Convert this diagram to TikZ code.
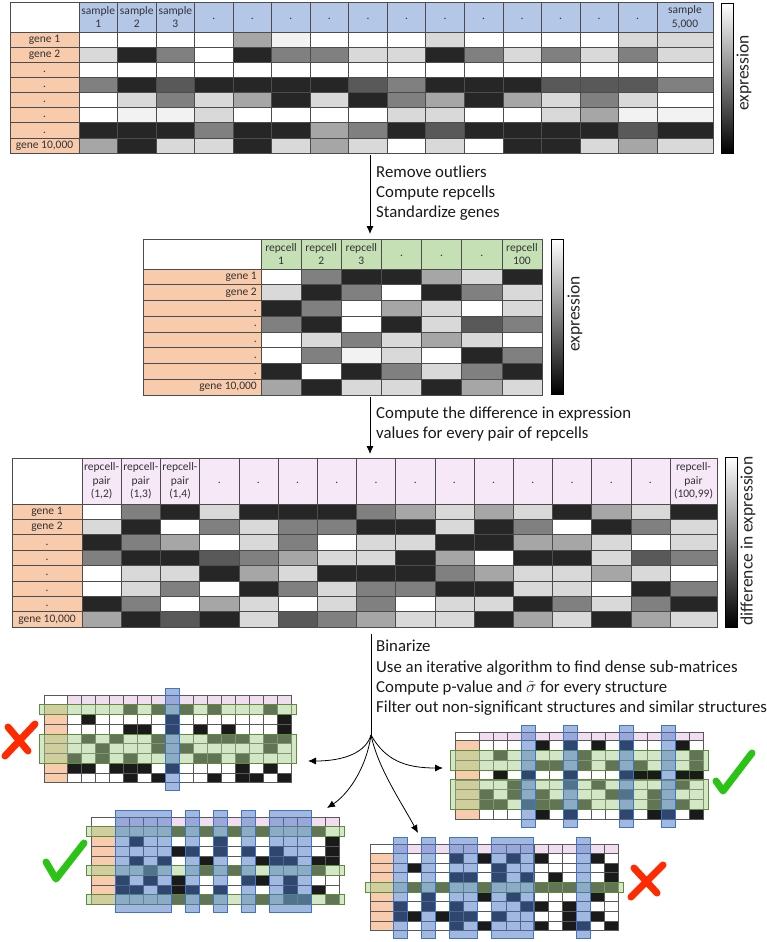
\documentclass[tikz,border=0pt]{standalone}
\usepackage{amsmath}
\usepackage{fontspec}
\setmainfont{Carlito}
\usepackage{tikz}
\usetikzlibrary{arrows.meta}

\definecolor{g0}{HTML}{FFFFFF}
\definecolor{g1}{HTML}{F2F2F2}
\definecolor{g2}{HTML}{D9D9D9}
\definecolor{g3}{HTML}{A6A6A6}
\definecolor{g4}{HTML}{808080}
\definecolor{g5}{HTML}{595959}
\definecolor{g6}{HTML}{262626}
\definecolor{b0}{HTML}{FFFFFF}
\definecolor{b1}{HTML}{1A1A1A}
\definecolor{hblue}{HTML}{B4C7E7}
\definecolor{hgreen}{HTML}{C5E0B4}
\definecolor{hpink}{HTML}{F6E8F6}
\definecolor{spink}{HTML}{F0DDF0}
\definecolor{lorange}{HTML}{F8CBAD}
\definecolor{bandg}{HTML}{A9D18E}
\definecolor{bandgl}{HTML}{5E8C3E}
\definecolor{bandb}{HTML}{4472C4}
\definecolor{okgreen}{HTML}{2BC416}
\definecolor{nored}{HTML}{FF2A00}

\newcommand{\dt}{\strut.}
% binary matrix shared by the four structures
\newcommand{\binrows}{{0,0,0,0,1,0,1,0,1,0,1,0,0,0,1,0},{0,1,0,0,0,0,0,1,0,0,0,0,0,0,0,1},{0,0,0,0,1,1,0,1,0,1,0,1,0,0,0,1},{0,1,0,1,0,0,1,0,0,0,1,1,1,0,1,1},{0,0,1,0,0,0,1,0,1,0,0,0,0,0,1,0},{1,0,1,0,1,0,0,0,0,1,1,0,1,0,0,0},{1,1,0,1,1,1,0,1,0,0,0,0,1,0,1,0},{0,0,0,0,1,0,1,0,0,0,1,0,1,1,0,1}}

% grey cells: data left, col width, right edge, top, row height, rows
\newcommand{\greycells}[6]{%
	\foreach \row [count=\r] in {#6} {
		\foreach \v [count=\c] in \row {
			\pgfmathsetmacro{\xa}{#1+(\c-1)*#2}
			\pgfmathsetmacro{\xb}{(\xa+1.5*#2>#3) ? #3 : \xa+#2}
			\filldraw[gcell,fill=g\v] (\xa,{#4+(\r-1)*#5}) rectangle (\xb,{#4+\r*#5});
		}
	}
}
% header cells: data left, col width, right edge, top, bottom, colour, texts, name
\newcommand{\headcells}[8]{%
	\foreach \t [count=\c] in {#7} {
		\pgfmathsetmacro{\xa}{#1+(\c-1)*#2}
		\pgfmathsetmacro{\xb}{(\xa+1.5*#2>#3) ? #3 : \xa+#2}
		\filldraw[gcell,fill=#6] (\xa,#4) rectangle (\xb,#5);
		\node[celltext] (#8-\c) at ({(\xa+\xb)/2},{(#4+#5)/2}) {\t};
	}
}
% gene labels: left, right, top, row height, text x, anchor, name
\newcommand{\genecells}[7]{%
	\foreach \t [count=\r] in {gene 1,gene 2,\dt,\dt,\dt,\dt,\dt,{gene 10,000}} {
		\filldraw[gcell,fill=lorange] (#1,{#3+(\r-1)*#4}) rectangle (#2,{#3+\r*#4});
		\node[celltext,anchor=#6] (#7-\r) at (#5,{#3+(\r-0.5)*#4}) {\t};
	}
}
% binarized matrix: x, y, label width, col width, header height, row height
\newcommand{\binmat}[6]{%
	\def\mx{#1}\def\my{#2}\def\ml{#3}\def\mc{#4}\def\mh{#5}\def\mr{#6}
	\filldraw[scell,fill=white] (#1,#2) rectangle ++(#3,#5);
	\foreach \c in {1,...,16}
		\filldraw[scell,fill=spink] ({#1+#3+(\c-1)*#4},#2) rectangle ++(#4,#5);
	\foreach \row [count=\r] in \binrows {
		\filldraw[scell,fill=lorange] (#1,{#2+#5+(\r-1)*#6}) rectangle ++(#3,#6);
		\foreach \v [count=\c] in \row
			\filldraw[scell,fill=b\v] ({#1+#3+(\c-1)*#4},{#2+#5+(\r-1)*#6}) rectangle ++(#4,#6);
	}
}
\newcommand{\gband}[2]{\filldraw[gband] ({\mx-5},{\my+\mh+(#1-1)*\mr}) rectangle ({\mx+\ml+16*\mc+5},{\my+\mh+#2*\mr});}
\newcommand{\bband}[2]{\filldraw[bband] ({\mx+\ml+(#1-1)*\mc},{\my-7}) rectangle ({\mx+\ml+#2*\mc},{\my+\mh+8*\mr+8});}

\begin{document}
\begin{tikzpicture}[x=1pt,y=-1pt]
	\tikzstyle{gcell}=[draw=black!70,line width=0.6pt]
	\tikzstyle{scell}=[draw=black!65,line width=0.5pt]
	\tikzstyle{celltext}=[align=center,inner sep=0pt,text=black!80,font=\fontsize{11.5}{13.5}\selectfont]
	\tikzstyle{steptext}=[anchor=west,align=left,inner sep=0pt,text=black!90,font=\fontsize{16.8}{20.3}\selectfont]
	\tikzstyle{bartext}=[rotate=90,inner sep=0pt,text=black!85,font=\fontsize{17.5}{19}\selectfont]
	\tikzstyle{arr}=[-{Latex[length=8pt,width=7pt]},line width=0.8pt]
	\tikzstyle{gband}=[fill=bandg,fill opacity=0.5,draw=bandgl,line width=0.9pt]
	\tikzstyle{bband}=[fill=bandb,fill opacity=0.5,draw=bandb,line width=1pt]
	\tikzstyle{okmark}=[draw=okgreen,line width=7pt,line cap=round,line join=round]
	\tikzstyle{nomark}=[draw=nored,line width=7pt,line cap=round]
	\useasboundingbox (0,0) rectangle (766,942);

	% samples
	\filldraw[gcell,fill=white] (10,2) rectangle (79,32);
	\headcells{79}{38.53}{713}{2}{32}{hblue}{{sample\\1},{sample\\2},{sample\\3},\dt,\dt,\dt,\dt,\dt,\dt,\dt,\dt,\dt,\dt,\dt,\dt,{sample\\5,000}}{sa}
	\genecells{10}{79}{32}{15.125}{44.5}{center}{ga}
	\greycells{79}{38.53}{713}{32}{15.125}{{0,0,0,0,3,1,0,0,0,2,0,0,0,0,2,2},{2,6,4,0,6,4,4,2,2,6,4,2,4,2,4,2},{0,0,0,0,0,0,0,0,0,0,0,0,0,0,0,0},{4,6,5,6,6,6,6,5,4,6,6,6,5,5,5,4},{0,2,4,2,3,6,2,6,4,3,6,3,2,4,2,0},{0,1,1,2,0,0,0,0,2,2,0,0,2,3,1,1},{6,6,6,4,6,6,3,4,6,5,6,6,6,6,5,6},{3,6,2,2,6,2,3,2,0,2,0,6,6,2,3,2}}
	\shade[top color=white,bottom color=black] (721,3) rectangle (733,153);
	\draw[line width=0.8pt] (721,3) rectangle (733,153);
	\node[bartext] (e1) at (744,73) {expression};

	% repcells
	\filldraw[gcell,fill=white] (143,239) rectangle (261,269);
	\headcells{261}{40.15}{542}{239}{269}{hgreen}{{repcell\\1},{repcell\\2},{repcell\\3},\dt,\dt,\dt,{repcell\\100}}{rc}
	\genecells{143}{261}{269}{15.75}{257}{east}{gb}
	\greycells{261}{40.15}{542}{269}{15.75}{{0,4,6,6,3,2,6},{2,6,4,0,6,4,2},{6,4,0,3,2,0,2},{4,6,0,6,2,5,4},{0,2,4,2,3,2,0},{0,4,1,2,0,6,4},{6,0,6,4,2,4,6},{3,6,2,2,6,3,2}}
	\shade[top color=white,bottom color=black] (551,239) rectangle (563,394);
	\draw[line width=0.8pt] (551,239) rectangle (563,394);
	\node[bartext] (e2) at (575,314) {expression};

	% repcell pairs
	\filldraw[gcell,fill=white] (12,458) rectangle (82,504);
	\headcells{82}{39.2}{717}{458}{504}{hpink}{{repcell-\\pair\\(1,2)},{repcell-\\pair\\(1,3)},{repcell-\\pair\\(1,4)},\dt,\dt,\dt,\dt,\dt,\dt,\dt,\dt,\dt,\dt,\dt,\dt,{repcell-\\pair\\(100,99)}}{rp}
	\genecells{12}{82}{504}{15.375}{47}{center}{gc}
	\greycells{82}{39.2}{717}{504}{15.375}{{0,4,6,2,6,6,6,4,3,2,3,2,6,3,2,6},{2,6,0,4,2,4,4,6,6,2,6,4,0,6,4,2},{6,4,3,0,2,4,0,2,2,6,6,3,3,2,0,2},{4,6,6,5,4,3,2,2,6,3,0,6,6,2,5,4},{0,2,2,6,3,2,6,6,6,4,3,2,2,3,2,0},{0,2,4,0,6,4,2,4,4,6,6,2,2,0,6,4},{6,4,0,3,2,0,2,4,0,2,2,6,4,2,4,6},{3,6,5,6,2,5,4,3,2,2,6,3,2,6,3,2}}
	\shade[top color=white,bottom color=black] (725,457) rectangle (737,627);
	\draw[line width=0.8pt] (725,457) rectangle (737,627);
	\node[bartext] (e3) at (748,541) {difference in expression};

	% steps
	\coordinate (m1bot) at (370,155);
	\coordinate (m2top) at (370,234);
	\coordinate (m2bot) at (370,397);
	\coordinate (m3top) at (370,454);
	\coordinate (m3bot) at (371,634);
	\coordinate (split) at (371,735);
	\draw[arr] (m1bot) -- (m2top);
	\draw[arr] (m2bot) -- (m3top);
	\node[steptext] (s1) at (376,193) {Remove outliers\\Compute repcells\\Standardize genes};
	\node[steptext] (s2) at (376,424) {Compute the difference in expression\\values for every pair of repcells};
	\node[steptext] (s3) at (376,678) {Binarize\\Use an iterative algorithm to find dense sub-matrices\\Compute p-value and $\tilde{\sigma}$ for every structure\\Filter out non-significant structures and similar structures};

	% structures
	\binmat{44}{695.3}{23.5}{14}{9.4}{9.75}
	\gband{1}{1} \gband{4}{6} \bband{8}{8}
	\binmat{455.7}{732}{24}{14}{8.7}{9.8}
	\gband{2}{3} \gband{5}{7} \bband{4}{4} \bband{7}{7} \bband{11}{11} \bband{14}{14}
	\binmat{91}{817.3}{24}{14.02}{9.4}{9.7}
	\gband{1}{1} \gband{5}{5} \gband{8}{8} \bband{1}{4} \bband{6}{6} \bband{8}{8} \bband{10}{10} \bband{12}{14}
	\binmat{370}{844}{23.3}{14.06}{9.3}{9.67}
	\gband{4}{4} \bband{1}{1} \bband{3}{3} \bband{5}{6} \bband{8}{10} \bband{14}{14}

	\coordinate (toA) at (308,761);
	\coordinate (toB) at (443,768);
	\coordinate (toC) at (327,808);
	\coordinate (toD) at (418,833);
	\draw[line width=0.8pt] (m3bot) -- (split);
	\draw[arr] (split) .. controls (366,752) and (345,761) .. (toA);
	\draw[arr] (split) .. controls (385,760) and (405,768) .. (toB);
	\draw[arr] (split) .. controls (366,770) and (347,795) .. (toC);
	\draw[arr] (split) .. controls (378,768) and (400,800) .. (toD);

	\draw[nomark] (5,756) -- (35,724) (8,727) -- (28,751);
	\draw[okmark] (716,781) -- (723,791) -- (752,753);
	\draw[okmark] (46,862) -- (56,879) -- (84,843);
	\draw[nomark] (631,897) -- (663,865) (634,868) -- (657,893);
\end{tikzpicture}
\end{document}
